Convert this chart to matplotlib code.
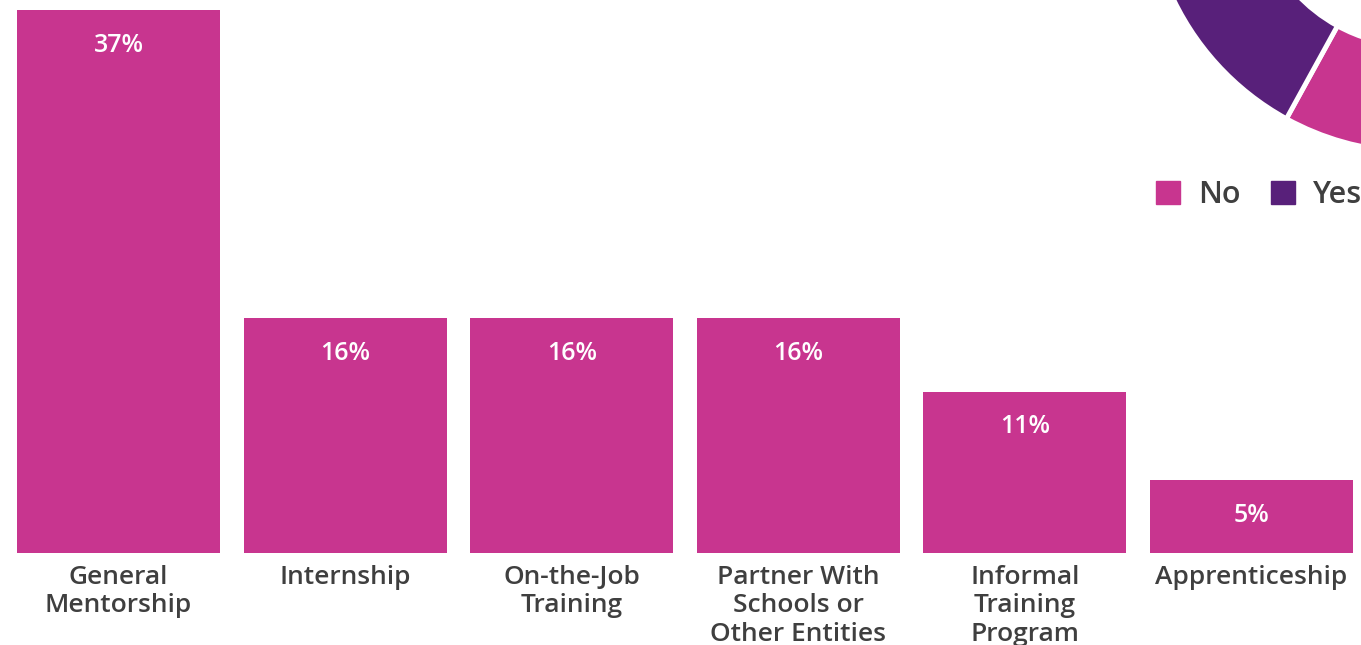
import matplotlib.pyplot as plt
from matplotlib.patches import Patch

# Datos de las barras
categorias = ["General\nMentorship", "Internship", "On-the-Job\nTraining",
              "Partner With\nSchools or\nOther Entities", "Informal\nTraining\nProgram",
              "Apprenticeship"]
porcentajes = [37, 16, 16, 16, 11, 5]

# Datos de la dona (No / Yes)
dona_etiquetas = ["No", "Yes"]
dona_valores = [58, 42]

ROSA = "#c8358f"
MORADO = "#58207a"
GRIS = "#3f3f3f"
FUENTE = ["Open Sans", "DejaVu Sans"]

plt.rcParams["font.family"] = FUENTE

fig = plt.figure(figsize=(13.61, 6.45), dpi=100)

# --- barras ---
W, H = 1361, 645
paso = 226.6
ax = fig.add_axes([0, (H - 553) / H, 1, 553 / H])
x = list(range(len(categorias)))
ax.bar(x, porcentajes, width=203 / paso, color=ROSA)
ax.set_xlim(-118.5 / paso, (W - 118.5) / paso)
ax.set_ylim(0, 553 / 14.68)

for i, v in zip(x, porcentajes):
    ax.annotate(f"{v}%", xy=(i, v), xytext=(0, -25.5), textcoords="offset points",
                ha="center", va="center", color="white", fontsize=18, fontweight=600)

ax.set_xticks(x)
ax.set_xticklabels(categorias, fontsize=19, color=GRIS, fontweight=600,
                   linespacing=1.18)
ax.tick_params(axis="x", length=0, pad=8.5)
ax.set_yticks([])
for s in ax.spines.values():
    s.set_visible(False)
ax.patch.set_alpha(0)

# --- dona parcial arriba a la derecha ---
cx, cy, R = 1416, H + 117, 269
ax2 = fig.add_axes([(cx - R) / W, (cy - R) / H, 2 * R / W, 2 * R / H])
ax2.pie(dona_valores, colors=[ROSA, MORADO], startangle=90, counterclock=False,
        radius=1, wedgeprops=dict(width=106 / 269, edgecolor="white", linewidth=3.5))
ax2.set_xlim(-1, 1)
ax2.set_ylim(-1, 1)
ax2.axis("off")

handles = [Patch(color=ROSA), Patch(color=MORADO)]
fig.legend(handles, dona_etiquetas, ncol=2, loc="center left",
           bbox_to_anchor=(1156 / W, 1 - 195 / H), frameon=False,
           labelcolor=GRIS, handlelength=0.78, handleheight=0.78,
           handletextpad=0.6, columnspacing=1.0, borderpad=0, borderaxespad=0,
           prop=dict(weight=600, size=22))

fig.savefig("out.png", dpi=100)
